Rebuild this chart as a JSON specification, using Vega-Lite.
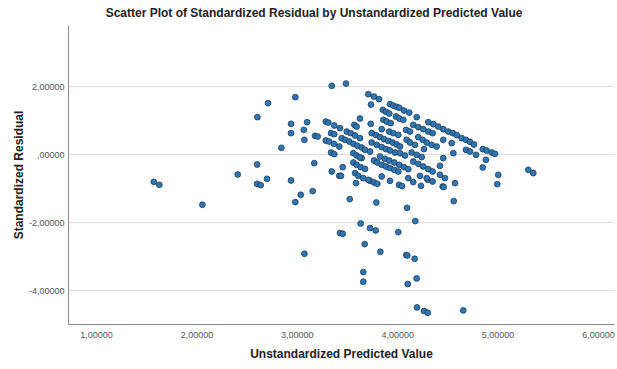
{
  "$schema": "https://vega.github.io/schema/vega-lite/v6.json",
  "autosize": "none",
  "width": 546,
  "height": 299,
  "padding": {"left": 68, "top": 25, "right": 3, "bottom": 45},
  "background": "white",
  "title": {
    "text": "Scatter Plot of Standardized Residual by Unstandardized Predicted Value",
    "font": "Liberation Sans",
    "fontSize": 12,
    "fontWeight": "bold",
    "color": "#222222",
    "anchor": "middle",
    "offset": 5,
    "dx": -27
  },
  "config": {
    "view": {"stroke": null},
    "axis": {
      "labelFont": "Liberation Sans",
      "titleFont": "Liberation Sans",
      "labelColor": "#555555",
      "titleColor": "#222222",
      "domainColor": "#8c8c8c",
      "gridColor": "#dcdcdc",
      "ticks": false
    }
  },
  "data": {
    "values": [
      {"pred": 1.575, "resid": -0.815}, {"pred": 1.630, "resid": -0.903}, {"pred": 2.059, "resid": -1.491},
      {"pred": 2.411, "resid": -0.600}, {"pred": 2.604, "resid": -0.306}, {"pred": 2.604, "resid": -0.874},
      {"pred": 2.640, "resid": -0.912}, {"pred": 2.703, "resid": -0.727}, {"pred": 2.607, "resid": 1.088},
      {"pred": 2.713, "resid": 1.500}, {"pred": 2.985, "resid": 1.676}, {"pred": 2.942, "resid": 0.891},
      {"pred": 2.942, "resid": 0.617}, {"pred": 3.102, "resid": 0.941}, {"pred": 3.069, "resid": 0.714},
      {"pred": 3.075, "resid": 0.420}, {"pred": 2.846, "resid": 0.185}, {"pred": 2.942, "resid": -0.777},
      {"pred": 3.039, "resid": -1.197}, {"pred": 2.985, "resid": -1.412}, {"pred": 3.158, "resid": -1.089},
      {"pred": 3.174, "resid": -0.265}, {"pred": 3.075, "resid": -2.933}, {"pred": 3.430, "resid": -2.324},
      {"pred": 3.348, "resid": 2.009}, {"pred": 3.490, "resid": 2.076}, {"pred": 3.181, "resid": 0.538},
      {"pred": 3.208, "resid": 0.517}, {"pred": 3.288, "resid": 0.958}, {"pred": 3.314, "resid": 0.929},
      {"pred": 3.373, "resid": 0.841}, {"pred": 3.341, "resid": 0.617}, {"pred": 3.373, "resid": 0.588},
      {"pred": 3.288, "resid": 0.400}, {"pred": 3.321, "resid": 0.370}, {"pred": 3.370, "resid": 0.303},
      {"pred": 3.341, "resid": 0.047}, {"pred": 3.373, "resid": 0.000}, {"pred": 3.348, "resid": -0.512},
      {"pred": 3.423, "resid": -0.639}, {"pred": 3.457, "resid": -0.383}, {"pred": 3.527, "resid": -1.324},
      {"pred": 3.590, "resid": -0.853}, {"pred": 3.729, "resid": -0.786}, {"pred": 3.769, "resid": -0.836},
      {"pred": 3.802, "resid": -0.874}, {"pred": 3.928, "resid": -0.786}, {"pred": 4.018, "resid": -0.903},
      {"pred": 4.048, "resid": -0.942}, {"pred": 4.160, "resid": -0.824}, {"pred": 4.237, "resid": -0.933},
      {"pred": 4.304, "resid": -0.756}, {"pred": 4.453, "resid": -0.953}, {"pred": 4.463, "resid": -0.971},
      {"pred": 4.576, "resid": -0.853}, {"pred": 4.997, "resid": -0.883}, {"pred": 3.792, "resid": -1.424},
      {"pred": 4.098, "resid": -1.580}, {"pred": 4.563, "resid": -1.383}, {"pred": 4.180, "resid": -1.971},
      {"pred": 3.636, "resid": -2.042}, {"pred": 3.729, "resid": -2.177}, {"pred": 3.786, "resid": -2.247},
      {"pred": 3.457, "resid": -2.344}, {"pred": 4.011, "resid": -2.294}, {"pred": 3.676, "resid": -2.648},
      {"pred": 3.832, "resid": -2.874}, {"pred": 4.091, "resid": -2.971}, {"pred": 4.101, "resid": -2.983},
      {"pred": 4.174, "resid": -3.080}, {"pred": 3.662, "resid": -3.471}, {"pred": 3.662, "resid": -3.756},
      {"pred": 4.194, "resid": -3.659}, {"pred": 4.105, "resid": -3.824}, {"pred": 4.197, "resid": -4.512},
      {"pred": 4.267, "resid": -4.618}, {"pred": 4.304, "resid": -4.668}, {"pred": 4.658, "resid": -4.600},
      {"pred": 3.712, "resid": 1.764}, {"pred": 3.769, "resid": 1.694}, {"pred": 3.819, "resid": 1.617},
      {"pred": 3.739, "resid": 1.459}, {"pred": 3.928, "resid": 1.470}, {"pred": 3.961, "resid": 1.429},
      {"pred": 3.995, "resid": 1.391}, {"pred": 4.021, "resid": 1.362}, {"pred": 4.068, "resid": 1.282},
      {"pred": 4.120, "resid": 1.223}, {"pred": 4.194, "resid": 1.088}, {"pred": 3.856, "resid": 1.303},
      {"pred": 3.888, "resid": 1.244}, {"pred": 3.921, "resid": 1.194}, {"pred": 3.988, "resid": 1.106},
      {"pred": 4.021, "resid": 1.047}, {"pred": 4.061, "resid": 1.009}, {"pred": 3.862, "resid": 1.009},
      {"pred": 3.895, "resid": 0.959}, {"pred": 3.935, "resid": 0.911}, {"pred": 3.629, "resid": 1.047},
      {"pred": 3.736, "resid": 0.891}, {"pred": 3.846, "resid": 0.735}, {"pred": 3.430, "resid": 0.764},
      {"pred": 3.573, "resid": 0.861}, {"pred": 3.596, "resid": 0.811}, {"pred": 3.497, "resid": 0.664},
      {"pred": 3.537, "resid": 0.617}, {"pred": 3.580, "resid": 0.547}, {"pred": 3.629, "resid": 0.470},
      {"pred": 3.447, "resid": 0.470}, {"pred": 3.480, "resid": 0.420}, {"pred": 3.523, "resid": 0.370},
      {"pred": 3.563, "resid": 0.303}, {"pred": 3.603, "resid": 0.244}, {"pred": 3.646, "resid": 0.194},
      {"pred": 3.746, "resid": 0.617}, {"pred": 3.789, "resid": 0.559}, {"pred": 3.829, "resid": 0.500},
      {"pred": 3.868, "resid": 0.441}, {"pred": 3.911, "resid": 0.391}, {"pred": 3.955, "resid": 0.341},
      {"pred": 3.995, "resid": 0.282}, {"pred": 4.028, "resid": 0.223}, {"pred": 3.921, "resid": 0.664},
      {"pred": 3.961, "resid": 0.617}, {"pred": 4.011, "resid": 0.567}, {"pred": 4.088, "resid": 0.714},
      {"pred": 4.127, "resid": 0.664}, {"pred": 4.160, "resid": 0.861}, {"pred": 4.210, "resid": 0.794},
      {"pred": 4.260, "resid": 0.735}, {"pred": 4.310, "resid": 0.664}, {"pred": 4.353, "resid": 0.617},
      {"pred": 4.310, "resid": 0.941}, {"pred": 4.360, "resid": 0.882}, {"pred": 4.409, "resid": 0.811},
      {"pred": 4.459, "resid": 0.735}, {"pred": 4.509, "resid": 0.664}, {"pred": 4.553, "resid": 0.617},
      {"pred": 4.593, "resid": 0.559}, {"pred": 4.642, "resid": 0.470}, {"pred": 4.685, "resid": 0.420},
      {"pred": 4.725, "resid": 0.362}, {"pred": 4.765, "resid": 0.282}, {"pred": 4.210, "resid": 0.500},
      {"pred": 4.254, "resid": 0.420}, {"pred": 4.294, "resid": 0.341}, {"pred": 4.343, "resid": 0.273},
      {"pred": 4.393, "resid": 0.223}, {"pred": 4.459, "resid": 0.420}, {"pred": 4.543, "resid": 0.323},
      {"pred": 4.094, "resid": 0.420}, {"pred": 4.127, "resid": 0.341}, {"pred": 4.177, "resid": 0.273},
      {"pred": 3.746, "resid": 0.341}, {"pred": 3.796, "resid": 0.273}, {"pred": 3.846, "resid": 0.206},
      {"pred": 3.888, "resid": 0.147}, {"pred": 3.928, "resid": 0.106}, {"pred": 3.978, "resid": 0.047},
      {"pred": 4.144, "resid": 0.047}, {"pred": 4.194, "resid": -0.021}, {"pred": 4.244, "resid": -0.088},
      {"pred": 4.267, "resid": 0.147}, {"pred": 3.729, "resid": 0.076}, {"pred": 3.563, "resid": 0.029},
      {"pred": 3.596, "resid": -0.041}, {"pred": 3.646, "resid": -0.118}, {"pred": 3.829, "resid": -0.071},
      {"pred": 3.878, "resid": -0.138}, {"pred": 3.921, "resid": -0.189}, {"pred": 3.971, "resid": -0.247},
      {"pred": 4.021, "resid": -0.315}, {"pred": 4.068, "resid": -0.383}, {"pred": 4.110, "resid": -0.442},
      {"pred": 3.769, "resid": -0.189}, {"pred": 3.802, "resid": -0.247}, {"pred": 3.846, "resid": -0.315},
      {"pred": 3.888, "resid": -0.365}, {"pred": 3.928, "resid": -0.412}, {"pred": 3.971, "resid": -0.462},
      {"pred": 4.011, "resid": -0.512}, {"pred": 3.563, "resid": -0.247}, {"pred": 3.596, "resid": -0.315},
      {"pred": 3.636, "resid": -0.383}, {"pred": 3.679, "resid": -0.432}, {"pred": 4.160, "resid": -0.218},
      {"pred": 4.210, "resid": -0.286}, {"pred": 4.260, "resid": -0.365}, {"pred": 4.310, "resid": -0.442},
      {"pred": 4.353, "resid": -0.512}, {"pred": 4.459, "resid": -0.118}, {"pred": 4.559, "resid": 0.029},
      {"pred": 4.685, "resid": 0.126}, {"pred": 4.725, "resid": 0.076}, {"pred": 4.785, "resid": -0.021},
      {"pred": 4.852, "resid": 0.147}, {"pred": 4.891, "resid": 0.106}, {"pred": 4.941, "resid": 0.047},
      {"pred": 4.974, "resid": 0.009}, {"pred": 4.884, "resid": -0.168}, {"pred": 4.852, "resid": -0.394},
      {"pred": 5.007, "resid": -0.609}, {"pred": 5.306, "resid": -0.462}, {"pred": 5.356, "resid": -0.559},
      {"pred": 4.426, "resid": -0.344}, {"pred": 4.426, "resid": -0.609}, {"pred": 4.476, "resid": -0.706},
      {"pred": 4.227, "resid": -0.638}, {"pred": 3.846, "resid": -0.659}, {"pred": 3.580, "resid": -0.559},
      {"pred": 3.612, "resid": -0.638}, {"pred": 3.662, "resid": -0.706}, {"pred": 3.712, "resid": -0.756},
      {"pred": 3.440, "resid": -0.638}, {"pred": 3.423, "resid": 0.223}, {"pred": 3.679, "resid": 0.126},
      {"pred": 3.629, "resid": -0.100}, {"pred": 4.028, "resid": 0.029}, {"pred": 4.078, "resid": -0.041},
      {"pred": 4.110, "resid": -0.706}, {"pred": 4.294, "resid": -0.706}, {"pred": 4.353, "resid": -0.806}
    ]
  },
  "mark": {
    "type": "point",
    "shape": "circle",
    "filled": true,
    "size": 34,
    "color": "#2f76b2",
    "stroke": "#1c3d5c",
    "strokeWidth": 0.8,
    "opacity": 1
  },
  "encoding": {
    "x": {
      "field": "pred",
      "type": "quantitative",
      "scale": {"domain": [0.72, 6.16], "nice": false, "zero": false},
      "axis": {
        "title": "Unstandardized Predicted Value",
        "titleFontSize": 12,
        "titleFontWeight": "bold",
        "titlePadding": 9,
        "values": [1, 2, 3, 4, 5, 6],
        "labelFontSize": 9,
        "labelPadding": 6,
        "grid": false,
        "labelExpr": "replace(replace(format(datum.value, '.5f'), '.', ','), '\u2212', '-')"
      }
    },
    "y": {
      "field": "resid",
      "type": "quantitative",
      "scale": {"domain": [-5, 3.8], "nice": false, "zero": false},
      "axis": {
        "title": "Standardized Residual",
        "titleFontSize": 12,
        "titleFontWeight": "bold",
        "titlePadding": 3,
        "values": [-4, -2, 0, 2],
        "labelFontSize": 9,
        "labelPadding": 4,
        "grid": true,
        "labelExpr": "datum.value == 0 ? ',00000' : replace(replace(format(datum.value, '.5f'), '.', ','), '\u2212', '-')"
      }
    }
  }
}
